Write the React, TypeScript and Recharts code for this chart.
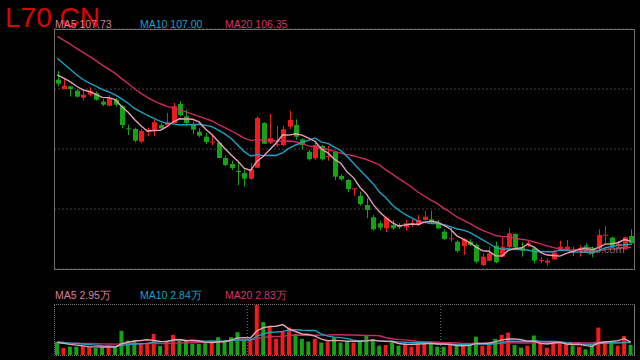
import { ComposedChart, Bar, Line, XAxis, YAxis, CartesianGrid, Cell, ReferenceLine } from "recharts";

const OPEN = [
  148.33, 146.0, 146.68, 145.58, 143.83, 144.58, 144.93, 142.83, 141.83, 143.33,
  141.68, 136.18, 136.0, 132.83, 135.33, 135.83, 137.0, 137.0, 137.5, 142.25,
  139.18, 137.0, 135.33, 134.08, 132.58, 132.58, 128.75, 127.25, 125.5, 125.0,
  123.58, 126.33, 137.5, 132.58, 132.0, 132.0, 136.58, 137.0, 133.43, 130.33,
  128.68, 131.75, 129.08, 130.25, 124.25, 123.25, 120.93, 119.25, 117.0, 113.93,
  112.43, 111.18, 112.0, 112.0, 111.43, 112.18, 112.0, 113.25, 113.43, 112.58,
  110.33, 108.5, 107.83, 106.75, 107.83, 107.0, 102.0, 103.08, 106.83, 104.08,
  106.43, 109.75, 106.43, 107.18, 106.18, 103.0, 102.58, 103.43, 105.75, 105.75,
  105.93, 105.75, 106.58, 106.18, 106.18, 109.43, 108.83, 106.75, 105.93, 109.25,
];
const CLOSE = [
  147.33, 146.83, 146.0, 144.08, 144.58, 145.43, 143.33, 142.08, 143.75, 142.08,
  137.0, 136.0, 133.08, 135.5, 135.83, 137.68, 136.18, 137.68, 141.68, 139.5,
  137.5, 135.83, 134.33, 132.75, 132.83, 128.75, 127.0, 126.25, 125.33, 123.58,
  125.93, 138.75, 132.33, 133.68, 132.18, 135.93, 138.25, 134.08, 132.0, 128.43,
  132.0, 128.43, 129.25, 124.08, 123.43, 121.0, 121.18, 117.25, 115.75, 110.93,
  111.33, 113.83, 111.18, 111.43, 112.43, 112.43, 113.25, 114.08, 112.58, 111.18,
  108.5, 108.68, 105.5, 108.43, 107.0, 102.83, 104.08, 104.93, 102.68, 106.58,
  109.93, 106.43, 105.58, 107.43, 103.08, 103.25, 103.08, 105.08, 106.58, 106.58,
  105.33, 106.18, 105.93, 104.93, 109.5, 109.58, 106.58, 107.25, 108.93, 107.43,
];
const HIGH = [
  150.5, 148.5, 146.75, 146.0, 145.68, 146.5, 145.33, 143.5, 144.5, 143.75,
  142.0, 137.08, 136.33, 136.0, 136.33, 138.33, 137.5, 140.0, 142.5, 143.0,
  140.83, 137.83, 136.18, 135.08, 134.5, 132.83, 129.43, 128.08, 127.93, 125.93,
  127.43, 139.08, 137.68, 139.75, 136.75, 136.75, 140.58, 138.43, 133.68, 130.75,
  132.83, 132.0, 131.75, 130.43, 124.58, 123.5, 121.18, 120.33, 118.68, 114.5,
  113.08, 114.08, 113.25, 112.43, 113.25, 113.43, 114.5, 115.58, 115.58, 113.25,
  110.93, 111.18, 108.25, 108.68, 108.43, 107.43, 104.93, 106.58, 107.83, 108.93,
  111.18, 109.93, 107.68, 108.25, 106.58, 103.93, 103.68, 105.75, 108.08, 108.25,
  106.58, 107.0, 107.43, 106.58, 110.93, 111.75, 109.08, 108.0, 109.08, 110.93,
];
const LOW = [
  146.68, 145.88, 144.08, 143.83, 143.08, 144.08, 143.08, 141.68, 141.68, 141.58,
  136.18, 134.5, 132.68, 132.43, 134.18, 134.18, 135.68, 136.83, 137.25, 139.18,
  136.68, 134.75, 133.93, 132.25, 132.0, 128.68, 126.75, 125.75, 122.0, 121.58,
  123.25, 126.25, 132.25, 132.25, 131.58, 131.75, 135.93, 133.25, 130.93, 128.08,
  128.25, 128.08, 128.08, 123.25, 123.08, 120.18, 119.33, 116.83, 113.68, 110.58,
  110.75, 110.25, 110.75, 111.0, 110.58, 111.58, 111.75, 113.08, 112.43, 110.93,
  108.25, 107.83, 105.08, 104.5, 106.75, 102.43, 101.75, 102.83, 102.43, 103.93,
  106.18, 106.18, 104.08, 106.58, 102.43, 102.43, 101.75, 103.25, 105.58, 105.58,
  104.25, 104.08, 105.58, 103.93, 105.75, 107.43, 106.43, 106.5, 105.75, 107.0,
];
// volume in 万
const VOLUME = [
  3.0, 1.61, 1.91, 1.91, 2.07, 1.77, 1.61, 1.77, 2.07, 1.91,
  5.53, 3.3, 3.3, 2.54, 2.84, 4.84, 2.07, 3.0, 4.61, 3.23,
  3.46, 2.54, 2.54, 2.7, 3.07, 4.08, 3.07, 4.08, 5.23, 3.46,
  3.62, 11.46, 7.54, 6.52, 3.76, 5.53, 6.29, 4.84, 3.69, 3.07,
  3.69, 2.84, 3.07, 4.08, 2.84, 3.0, 2.84, 3.07, 4.45, 3.69,
  2.14, 2.31, 2.93, 2.14, 2.7, 1.91, 2.84, 3.23, 2.7, 1.91,
  1.91, 2.31, 2.14, 2.31, 2.31, 4.22, 2.14, 2.7, 3.69, 4.61,
  5.14, 2.31, 1.68, 2.14, 4.45, 2.7, 1.68, 2.84, 2.84, 2.54,
  2.14, 1.91, 1.31, 2.14, 6.29, 3.23, 2.7, 2.14, 4.38, 2.31,
];
// sessions before the visible window (only feed the moving averages)
const PRE_CLOSES = [
  165.8, 165.6, 165.4, 165.2, 165.0, 164.7, 164.4, 164.0, 163.6, 163.0,
  160.5, 159.5, 158.0, 156.5, 154.5, 151.0, 150.4, 149.8, 149.2,
];
const PRE_VOLUMES = [
  2.4, 2.7, 2.3, 2.6, 2.5, 2.8, 2.4, 2.5, 2.43, 3.3,
  2.9, 3.4, 3.0, 3.2, 3.07, 2.8, 3.1, 2.7, 2.9,
];
const MONTH_STARTS = [30, 60];

const RED = "#f21a1a";
const GREEN = "#14a314";
const C_MA5 = "#e6a3b5";
const C_MA10 = "#1ba2c4";
const C_MA20 = "#cc2a62";

function sma(series: number[], pre: number[], n: number) {
  const all = [...pre, ...series];
  const off = pre.length;
  return series.map((_, i) => {
    let s = 0;
    for (let k = 0; k < n; k++) s += all[off + i - k];
    return s / n;
  });
}

const ma5 = sma(CLOSE, PRE_CLOSES, 5);
const ma10 = sma(CLOSE, PRE_CLOSES, 10);
const ma20 = sma(CLOSE, PRE_CLOSES, 20);
const vma5 = sma(VOLUME, PRE_VOLUMES, 5);
const vma10 = sma(VOLUME, PRE_VOLUMES, 10);
const vma20 = sma(VOLUME, PRE_VOLUMES, 20);

const data = CLOSE.map((c, i) => ({
  i,
  open: OPEN[i],
  close: c,
  high: HIGH[i],
  low: LOW[i],
  range: [LOW[i], HIGH[i]],
  ma5: ma5[i],
  ma10: ma10[i],
  ma20: ma20[i],
  vol: VOLUME[i],
  vma5: vma5[i],
  vma10: vma10[i],
  vma20: vma20[i],
}));

// eslint-disable-next-line @typescript-eslint/no-explicit-any
function Candle(props: any) {
  const { x, y, width, height, payload } = props;
  if (!payload || height == null) return null;
  const { open, close, high, low } = payload;
  const span = high - low || 1;
  const py = (v: number) => y + ((high - v) / span) * height;
  const color = close >= open ? RED : GREEN;
  const cx = Math.round(x + width / 2) + 0.5;
  const top = py(Math.max(open, close));
  const bot = py(Math.min(open, close));
  return (
    <g>
      <line x1={cx} x2={cx} y1={y} y2={y + height} stroke={color} strokeWidth={1} />
      <rect x={cx - 2.5} y={top} width={5} height={Math.max(1, bot - top)} fill={color} />
    </g>
  );
}

const font = "'Liberation Sans', Arial, sans-serif";

export default function App() {
  return (
    <div style={{ position: "fixed", left: 0, top: 0, width: 640, height: 360, background: "#000", overflow: "hidden" }}>
      <div style={{ position: "absolute", left: 0, top: 0 }}>
        <ComposedChart width={640} height={280} data={data} margin={{ top: 29, right: 6, bottom: 11, left: 54 }}>
          <CartesianGrid vertical={false} stroke="#474747" strokeDasharray="2 2" />
          <XAxis dataKey="i" hide />
          <YAxis domain={[101, 161]} ticks={[116, 131, 146]} hide />
          <Bar dataKey="range" shape={<Candle />} barSize={5} isAnimationActive={false} />
          <Line dataKey="ma20" stroke={C_MA20} strokeWidth={1.4} dot={false} isAnimationActive={false} />
          <Line dataKey="ma10" stroke={C_MA10} strokeWidth={1.4} dot={false} isAnimationActive={false} />
          <Line dataKey="ma5" stroke={C_MA5} strokeWidth={1.4} dot={false} isAnimationActive={false} />
        </ComposedChart>
      </div>
      <div style={{ position: "absolute", left: 54, top: 29, width: 579, height: 239, border: "1px solid #6e6e6e", pointerEvents: "none" }} />

      <div style={{ position: "absolute", left: 0, top: 290 }}>
        <ComposedChart width={640} height={70} data={data} margin={{ top: 15, right: 6, bottom: 5, left: 54 }}>
          <XAxis dataKey="i" hide />
          <YAxis domain={[0, "dataMax"]} hide />
          {MONTH_STARTS.map((m) => (
            <ReferenceLine key={m} x={m} position="start" stroke="#777" strokeDasharray="1 2" />
          ))}
          <Bar dataKey="vol" barSize={4} isAnimationActive={false}>
            {data.map((d, idx) => (
              <Cell key={idx} fill={d.close >= d.open ? RED : GREEN} />
            ))}
          </Bar>
          <Line dataKey="vma20" stroke={C_MA20} strokeWidth={1.4} dot={false} isAnimationActive={false} />
          <Line dataKey="vma10" stroke={C_MA10} strokeWidth={1.4} dot={false} isAnimationActive={false} />
          <Line dataKey="vma5" stroke={C_MA5} strokeWidth={1.4} dot={false} isAnimationActive={false} />
        </ComposedChart>
      </div>
      <div
        style={{
          position: "absolute",
          left: 54,
          top: 304,
          width: 579,
          height: 50,
          borderTop: "1px dotted #777",
          borderBottom: "1px dotted #777",
          borderLeft: "1px dotted #777",
          borderRight: "1px solid #777",
          pointerEvents: "none",
        }}
      />

      <svg width={640} height={360} style={{ position: "absolute", left: 0, top: 0, pointerEvents: "none" }}>
        <text x={5} y={27} fill="#e00000" fontSize={28} fontFamily={font}>L70 CN</text>
        <text x={55} y={27.5} fill="#dc7f9c" fontSize={10.5} fontFamily={font}>MA5 107.73</text>
        <text x={140} y={27.5} fill={C_MA10} fontSize={10.5} fontFamily={font}>MA10 107.00</text>
        <text x={225} y={27.5} fill="#d4336f" fontSize={10.5} fontFamily={font}>MA20 106.35</text>
        <text x={580} y={253} fill="#8c8c8c" fillOpacity={0.85} fontSize={11} fontFamily={font}>dipo.com</text>
        <text x={55} y={299} fill="#dc7f9c" fontSize={10.5} fontFamily={font}>MA5 2.95万</text>
        <text x={140} y={299} fill={C_MA10} fontSize={10.5} fontFamily={font}>MA10 2.84万</text>
        <text x={225} y={299} fill="#d4336f" fontSize={10.5} fontFamily={font}>MA20 2.83万</text>
      </svg>
    </div>
  );
}
